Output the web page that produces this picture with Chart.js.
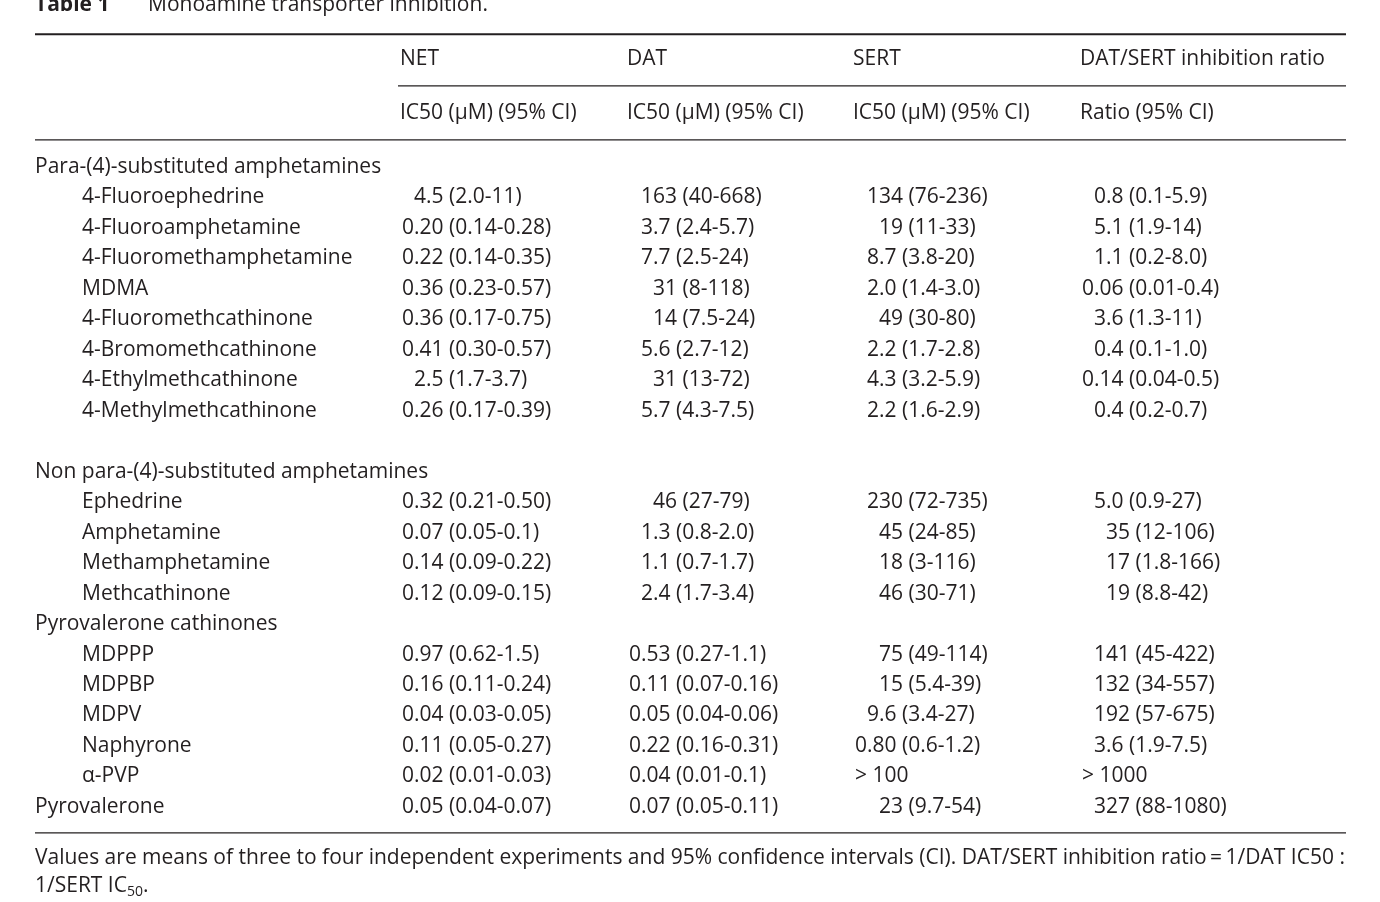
<!DOCTYPE html>
<html>
<head>
<title>Monoamine transporter inhibition</title>
<script src="https://cdn.jsdelivr.net/npm/chart.js"></script>
<style>
  body { margin: 0; background: #fff; }
</style>
</head>
<body>
<canvas id="myChart" width="1380" height="902"></canvas>
<script>
// row labels; '' = blank row, group headers have no values
const compounds = ['Para-(4)-substituted amphetamines', '4-Fluoroephedrine', '4-Fluoroamphetamine',
  '4-Fluoromethamphetamine', 'MDMA', '4-Fluoromethcathinone', '4-Bromomethcathinone',
  '4-Ethylmethcathinone', '4-Methylmethcathinone', '',
  'Non para-(4)-substituted amphetamines', 'Ephedrine', 'Amphetamine', 'Methamphetamine', 'Methcathinone',
  'Pyrovalerone cathinones', 'MDPPP', 'MDPBP', 'MDPV', 'Naphyrone', '\u03b1-PVP', 'Pyrovalerone'];
const indented = [0, 1, 1, 1, 1, 1, 1, 1, 1, 0, 0, 1, 1, 1, 1, 0, 1, 1, 1, 1, 1, 0];
const netVals = ['', ' 4.5 (2.0-11)', '0.20 (0.14-0.28)', '0.22 (0.14-0.35)', '0.36 (0.23-0.57)',
  '0.36 (0.17-0.75)', '0.41 (0.30-0.57)', ' 2.5 (1.7-3.7)', '0.26 (0.17-0.39)', '',
  '', '0.32 (0.21-0.50)', '0.07 (0.05-0.1)', '0.14 (0.09-0.22)', '0.12 (0.09-0.15)',
  '', '0.97 (0.62-1.5)', '0.16 (0.11-0.24)', '0.04 (0.03-0.05)', '0.11 (0.05-0.27)', '0.02 (0.01-0.03)', '0.05 (0.04-0.07)'];
const datVals = ['', ' 163 (40-668)', ' 3.7 (2.4-5.7)', ' 7.7 (2.5-24)', '  31 (8-118)',
  '  14 (7.5-24)', ' 5.6 (2.7-12)', '  31 (13-72)', ' 5.7 (4.3-7.5)', '',
  '', '  46 (27-79)', ' 1.3 (0.8-2.0)', ' 1.1 (0.7-1.7)', ' 2.4 (1.7-3.4)',
  '', '0.53 (0.27-1.1)', '0.11 (0.07-0.16)', '0.05 (0.04-0.06)', '0.22 (0.16-0.31)', '0.04 (0.01-0.1)', '0.07 (0.05-0.11)'];
const sertVals = ['', ' 134 (76-236)', '  19 (11-33)', ' 8.7 (3.8-20)', ' 2.0 (1.4-3.0)',
  '  49 (30-80)', ' 2.2 (1.7-2.8)', ' 4.3 (3.2-5.9)', ' 2.2 (1.6-2.9)', '',
  '', ' 230 (72-735)', '  45 (24-85)', '  18 (3-116)', '  46 (30-71)',
  '', '  75 (49-114)', '  15 (5.4-39)', ' 9.6 (3.4-27)', '0.80 (0.6-1.2)', '> 100', '  23 (9.7-54)'];
const ratioVals = ['', ' 0.8 (0.1-5.9)', ' 5.1 (1.9-14)', ' 1.1 (0.2-8.0)', '0.06 (0.01-0.4)',
  ' 3.6 (1.3-11)', ' 0.4 (0.1-1.0)', '0.14 (0.04-0.5)', ' 0.4 (0.2-0.7)', '',
  '', ' 5.0 (0.9-27)', '  35 (12-106)', '  17 (1.8-166)', '  19 (8.8-42)',
  '', ' 141 (45-422)', ' 132 (34-557)', ' 192 (57-675)', ' 3.6 (1.9-7.5)', '> 1000', ' 327 (88-1080)'];
const columns = ['NET', 'DAT', 'SERT', 'DAT/SERT inhibition ratio'];
const subHeads = ['IC50 (\u03bcM) (95% CI)', 'IC50 (\u03bcM) (95% CI)', 'IC50 (\u03bcM) (95% CI)', 'Ratio (95% CI)'];

const FONT = '21px "Open Sans", "DejaVu Sans", sans-serif';
const INK = '#231f20';
const colX = [400, 627, 853, 1080];

const tablePlugin = {
  id: 'table',
  afterDraw(chart) {
    const c = chart.ctx, xs = chart.scales.x, ys = chart.scales.y;
    const X = v => xs.getPixelForValue(v), Y = v => ys.getPixelForValue(v);
    const pad = s => s.replace(/ /g, (m, i, str) => i < 4 && /^ *$/.test(str.slice(0, i + 1)) ? '\u2007' : ' ');
    c.save();
    c.fillStyle = INK; c.strokeStyle = INK;
    c.textBaseline = 'middle'; c.textAlign = 'left';
    // title
    c.font = 'bold ' + FONT; c.fillText('Table 1', X(35), Y(-5.3));
    c.font = FONT; c.fillText('Monoamine transporter inhibition.', X(148), Y(-5.3));
    // rules
    const rule = (x0, x1, r, w) => { c.lineWidth = w; c.beginPath(); c.moveTo(X(x0), Y(r)); c.lineTo(X(x1), Y(r)); c.stroke(); };
    rule(35, 1346, -4.36, 2);
    rule(398, 1346, -2.66, 1.3);
    rule(35, 1346, -0.89, 1.3);
    rule(35, 1346, 21.85, 1.3);
    // headers
    columns.forEach((t, i) => c.fillText(t, X(colX[i]), Y(-3.54)));
    subHeads.forEach((t, i) => c.fillText(t, X(colX[i]), Y(-1.77)));
    // rows
    compounds.forEach((name, r) => {
      c.fillText(name, X(indented[r] ? 82 : 35), Y(r));
      [netVals, datVals, sertVals, ratioVals].forEach((arr, k) => {
        if (arr[r]) c.fillText(pad(arr[r]), X(colX[k] + 2), Y(r));
      });
    });
    // footnote
    c.fillText('Values are means of three to four independent experiments and 95% confidence intervals (CI). DAT/SERT inhibition ratio\u2009=\u20091/DAT IC50 :', X(35), Y(22.67));
    const t = '1/SERT IC';
    c.fillText(t, X(35), Y(23.59));
    const w = c.measureText(t).width;
    c.font = '14px "Open Sans", sans-serif';
    c.fillText('50', X(35) + w, Y(23.59) + 6);
    const w2 = c.measureText('50').width;
    c.font = FONT; c.fillText('.', X(35) + w + w2, Y(23.59));
    c.restore();
  }
};

new Chart(document.getElementById('myChart'), {
  type: 'scatter',
  data: { datasets: [{ data: [] }] },
  options: {
    responsive: false, animation: false,
    layout: { padding: 0 },
    plugins: { legend: { display: false }, tooltip: { enabled: false } },
    scales: {
      x: { type: 'linear', min: 0, max: 1380, display: false },
      y: { type: 'linear', min: -5.48, max: 24.12, reverse: true, display: false }
    }
  },
  plugins: [tablePlugin]
});
</script>
</body>
</html>
